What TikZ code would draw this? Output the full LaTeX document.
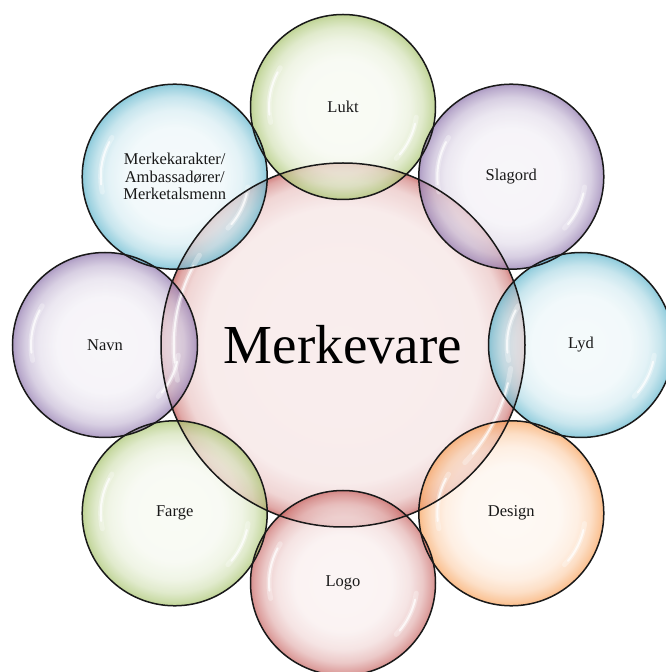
\documentclass[tikz,border=0pt]{standalone}
\usepackage{fontspec}
\setmainfont{Liberation Serif}
\usetikzlibrary{calc}

\definecolor{bgreen}{HTML}{9BBB59}
\definecolor{bpurple}{HTML}{8064A2}
\definecolor{baqua}{HTML}{4BACC6}
\definecolor{borange}{HTML}{F79646}
\definecolor{bred}{HTML}{C0504D}

% glassy bubble: pale centre, tinted rim (25bp = circle radius)
\newcommand\makebubbleshading[1]{%
  \pgfdeclareradialshading{bubble#1}{\pgfpoint{0bp}{0bp}}{%
    color(0bp)=(#1!8!white); color(13bp)=(#1!10!white);
    color(18bp)=(#1!22!white); color(21.5bp)=(#1!44!white);
    color(24bp)=(#1!75!white); color(25bp)=(#1!92!white);
    color(50bp)=(#1!92!white)}}
\makebubbleshading{bgreen}
\makebubbleshading{bpurple}
\makebubbleshading{baqua}
\makebubbleshading{borange}
\makebubbleshading{bred}
\pgfdeclareradialshading{hubshade}{\pgfpoint{0bp}{0bp}}{%
  color(0bp)=(bred!12!white); color(19bp)=(bred!14!white);
  color(22.5bp)=(bred!30!white); color(24.3bp)=(bred!62!white);
  color(25bp)=(bred!88!white); color(50bp)=(bred!88!white)}

% soft white reflections on the glass
\newcommand\glints[3]{%
  \draw[glintsoft] (#1.center) ++(148:#3*#2) arc[start angle=148,end angle=192,radius=#3*#2];
  \draw[glint] (#1.center) ++(152:#3*#2) arc[start angle=152,end angle=186,radius=#3*#2];
  \draw[glintsoft] (#1.center) ++(-44:#3*#2) arc[start angle=-44,end angle=-8,radius=#3*#2];
  \draw[glint] (#1.center) ++(-40:#3*#2) arc[start angle=-40,end angle=-13,radius=#3*#2];}

\begin{document}
\begin{tikzpicture}[x=1pt,y=1pt,
  bubble/.style={circle, inner sep=0pt, minimum size=185pt, shade, shading=bubble#1, fill opacity=0.7},
  hub/.style={circle, inner sep=0pt, minimum size=364pt, shade, shading=hubshade, fill opacity=0.8},
  rim/.style={draw=black!90, line width=1.5pt},
  glint/.style={white, line width=2pt, line cap=round, opacity=0.75},
  glintsoft/.style={white, line width=5pt, line cap=round, opacity=0.3},
  lbl/.style={font=\fontsize{16.5}{17.5}\selectfont, align=center, text=black!90},
  title/.style={font=\fontsize{55}{60}\selectfont, text=black}]
\useasboundingbox (0,0) rectangle (666,672);
\clip (0,0) rectangle (666,672);
\coordinate (C) at (343,327);

% fills
\node[hub] (hub) at (C) {};
\node[bubble=bgreen]   (lukt)    at ($(C)+(90:238)$) {};
\node[bubble=bpurple]  (slagord) at ($(C)+(45:238)$) {};
\node[bubble=baqua]    (lyd)     at ($(C)+(0:238)$) {};
\node[bubble=borange]  (design)  at ($(C)+(-45:238)$) {};
\node[bubble=bred]     (logo)    at ($(C)+(-90:238)$) {};
\node[bubble=bgreen]   (farge)   at ($(C)+(-135:238)$) {};
\node[bubble=bpurple]  (navn)    at ($(C)+(180:238)$) {};
\node[bubble=baqua]    (karakter) at ($(C)+(135:238)$) {};

% highlights
\glints{hub}{182}{0.93}
\foreach \b in {lukt,slagord,lyd,design,logo,farge,navn,karakter}{\glints{\b}{92.5}{0.8}}

% outlines
\draw[rim] (hub.center) circle[radius=182];
\foreach \b in {lukt,slagord,lyd,design,logo,farge,navn,karakter}{
  \draw[rim] (\b.center) circle[radius=92.5];}

% labels
\node[title] (tmv) at (hub) {Merkevare};
\node[lbl] (tlukt) at (lukt) {Lukt};
\node[lbl] (tslagord) at (slagord) {Slagord};
\node[lbl] (tlyd) at (lyd) {Lyd};
\node[lbl] (tdesign) at (design) {Design};
\node[lbl] (tlogo) at (logo) {Logo};
\node[lbl] (tfarge) at (farge) {Farge};
\node[lbl] (tnavn) at (navn) {Navn};
\node[lbl] (tkarakter) at (karakter) {Merkekarakter/\\Ambassadører/\\Merketalsmenn};
\end{tikzpicture}
\end{document}
